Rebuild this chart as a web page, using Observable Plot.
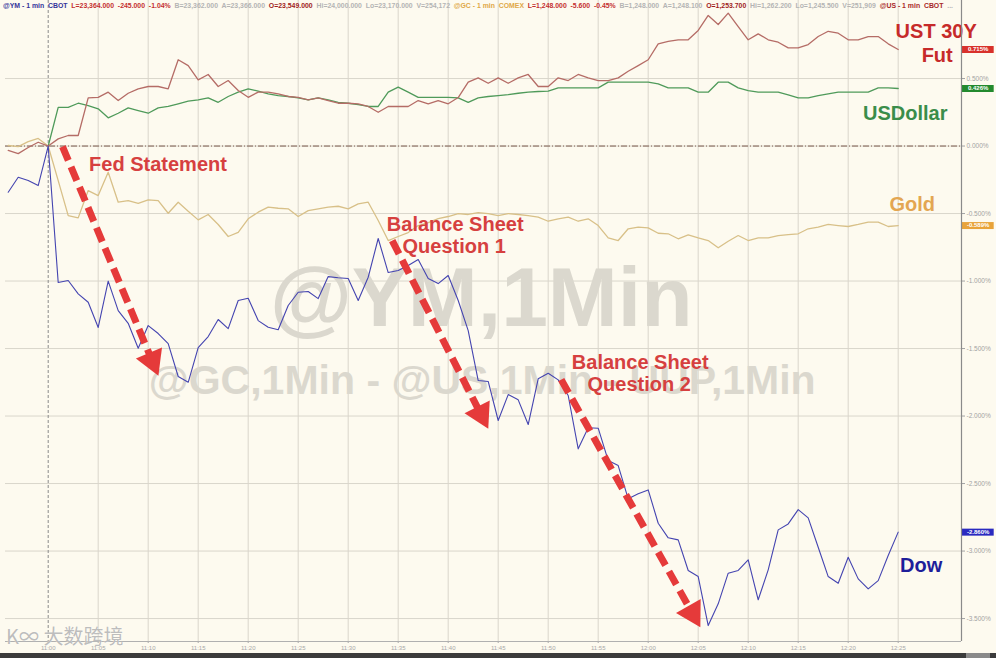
<!DOCTYPE html>
<html><head><meta charset="utf-8">
<script src="https://cdn.jsdelivr.net/npm/d3@7"></script>
<script src="https://cdn.jsdelivr.net/npm/@observablehq/plot@0.6"></script>
<style>
body{margin:0;background:#fdfaef;width:996px;height:658px;overflow:hidden;position:relative;font-family:"Liberation Sans",Arial,sans-serif;}
#chart{position:absolute;left:0;top:0;}
#hdr{position:absolute;left:3px;top:2px;font-size:6.5px;line-height:7px;white-space:pre;transform-origin:0 0;font-weight:bold;}
#bar{position:absolute;left:0;top:653px;width:996px;height:5px;background:#3b3b3b;}
#bar2{position:absolute;left:966px;top:653px;width:24px;height:5px;background:#8a8a8a;}
#logo{position:absolute;left:6px;top:625px;font-size:20px;line-height:22px;color:rgba(160,160,160,0.7);font-family:"Noto Sans CJK SC","Liberation Sans",sans-serif;text-shadow:0 0 1px #fff;}
</style></head><body>
<div id="chart"></div><div id="hdr"></div><div id="bar"></div><div id="bar2"></div>
<div id="logo">K∞ 大数跨境</div>
<script>
// minutes relative to 11:00, one point per minute from 10:56 to 12:25
const firstMinute = -4;
const dow = [-0.342,-0.231,-0.256,-0.293,0.000,-1.011,-0.996,-1.095,-1.157,-1.344,
 -1.001,-1.219,-1.313,-1.498,-1.330,-1.389,-1.463,-1.707,-1.750,-1.493,
 -1.411,-1.285,-1.352,-1.144,-1.127,-1.293,-1.342,-1.361,-1.181,-1.083,
 -1.078,-1.130,-0.967,-0.976,-0.981,-1.144,-0.972,-0.685,-0.937,-0.922,
 -0.885,-0.841,-0.981,-1.019,-0.959,-1.144,-1.367,-1.737,-1.744,-2.033,
 -1.841,-1.880,-2.063,-1.724,-1.683,-1.732,-1.848,-2.243,-2.087,-2.090,
 -2.330,-2.367,-2.613,-2.576,-2.547,-2.794,-2.902,-2.917,-3.144,-3.189,
 -3.552,-3.391,-3.164,-3.144,-3.065,-3.361,-3.139,-2.843,-2.799,-2.693,
 -2.754,-2.972,-3.189,-3.239,-3.046,-3.206,-3.280,-3.219,-3.033,-2.860];
const gold = [0.004,-0.004,0.033,0.056,0.000,-0.256,-0.515,-0.532,-0.330,-0.367,
 -0.194,-0.416,-0.404,-0.424,-0.399,-0.404,-0.498,-0.416,-0.483,-0.547,
 -0.507,-0.581,-0.670,-0.639,-0.539,-0.490,-0.453,-0.461,-0.465,-0.522,
 -0.478,-0.465,-0.453,-0.446,-0.465,-0.428,-0.416,-0.552,-0.700,-0.670,
 -0.641,-0.589,-0.567,-0.537,-0.522,-0.500,-0.507,-0.493,-0.500,-0.515,
 -0.500,-0.507,-0.515,-0.527,-0.557,-0.539,-0.527,-0.557,-0.539,-0.589,
 -0.680,-0.700,-0.613,-0.601,-0.606,-0.646,-0.650,-0.687,-0.658,-0.680,
 -0.700,-0.754,-0.705,-0.663,-0.700,-0.680,-0.680,-0.663,-0.656,-0.650,
 -0.613,-0.601,-0.581,-0.589,-0.596,-0.581,-0.564,-0.564,-0.596,-0.589];
const usd = [null,null,null,null,0.000,0.287,0.287,0.317,0.300,0.276,
 0.209,0.243,0.283,0.263,0.243,0.283,0.293,0.313,0.332,0.342,
 0.357,0.324,0.367,0.399,0.424,0.406,0.387,0.374,0.367,0.357,
 0.342,0.357,0.342,0.324,0.317,0.307,0.293,0.293,0.399,0.436,
 0.399,0.361,0.361,0.361,0.361,0.357,0.324,0.357,0.367,0.374,
 0.381,0.391,0.399,0.404,0.406,0.431,0.431,0.431,0.431,0.431,
 0.473,0.473,0.473,0.473,0.473,0.461,0.431,0.431,0.431,0.399,
 0.399,0.473,0.473,0.431,0.411,0.399,0.399,0.399,0.379,0.357,
 0.357,0.374,0.387,0.399,0.399,0.399,0.399,0.431,0.431,0.426];
const ust = [-0.033,-0.056,-0.011,0.028,0.000,0.053,0.078,0.078,0.357,0.361,
 0.399,0.337,0.391,0.424,0.441,0.441,0.424,0.639,0.596,0.490,
 0.530,0.441,0.485,0.411,0.361,0.399,0.399,0.387,0.367,0.361,
 0.342,0.357,0.337,0.317,0.317,0.313,0.293,0.250,0.293,0.293,
 0.293,0.337,0.313,0.337,0.313,0.359,0.473,0.505,0.465,0.505,
 0.465,0.505,0.530,0.441,0.441,0.505,0.485,0.530,0.505,0.485,
 0.485,0.505,0.554,0.596,0.639,0.757,0.776,0.787,0.787,0.856,
 0.967,0.900,0.984,0.885,0.787,0.831,0.787,0.769,0.727,0.727,
 0.752,0.811,0.850,0.836,0.787,0.787,0.811,0.811,0.757,0.715];

const seriesNames = ["Gold","USDollar","UST 30Y Fut","Dow"];
const lineColors = ["#d8c088","#4f9a5a","#b56c66","#4444b0"];
const seriesValues = [gold, usd, ust, dow];

const yTicks = [0.5,0,-0.5,-1,-1.5,-2,-2.5,-3,-3.5];
const xTicks = [0,5,10,15,20,25,30,35,40,45,50,55,60,65,70,75,80,85];

// annotation texts (positions in minutes / percent)
const notes = [
 {t:10.98, v:-0.137, text:"Fed Statement"},
 {t:40.7, v:-0.583, text:"Balance Sheet"},
 {t:40.6, v:-0.744, text:"Question 1"},
 {t:59.2, v:-1.607, text:"Balance Sheet"},
 {t:59.1, v:-1.767, text:"Question 2"}
];
const seriesLabels = [
 {t:88.8, v:0.848, text:"UST 30Y", color:"#c62a2a"},
 {t:88.9, v:0.670, text:"Fut", color:"#c62a2a"},
 {t:85.7, v:0.241, text:"USDollar", color:"#3a8d4a"},
 {t:86.4, v:-0.433, text:"Gold", color:"#e3a652"},
 {t:87.3, v:-3.107, text:"Dow", color:"#1e1e9a"}
];
const badges = [
 {v:0.715, text:"0.715%", color:"#d8312b"},
 {v:0.426, text:"0.426%", color:"#238a2e"},
 {v:-0.589, text:"-0.589%", color:"#e8a33a"},
 {v:-2.860, text:"-2.860%", color:"#2a2ac0"}
];
const arrows = [
 {x1:1.43, y1:-0.004, x2:10.93, y2:-1.685},
 {x1:34.4, y1:-0.70, x2:43.9, y2:-2.078},
 {x1:51.3, y1:-1.73, x2:65.1, y2:-3.55}
];
const watermarks = [
 {t:43.3, v:-1.137, text:"@YM,1Min", size:84},
 {t:43.4, v:-1.737, text:"@GC,1Min - @US,1Min - UUP,1Min", size:41}
];

const xDomain = [-4.27, 91.33], yDomain = [-3.670, 1.078];
const W = 996, H = 653, mL = 5, mR = 35, mT = 0, mB = 12;
const xs = d3.scaleLinear(xDomain, [mL, W - mR]);
const ys = d3.scaleLinear(yDomain, [H - mB, mT]);

const shafts = [], heads = [];
for (const a of arrows) {
  const px1 = xs(a.x1), py1 = ys(a.y1), px2 = xs(a.x2), py2 = ys(a.y2);
  const len = Math.hypot(px2 - px1, py2 - py1), ux = (px2 - px1) / len, uy = (py2 - py1) / len;
  shafts.push({x1:a.x1, y1:a.y1, x2:xs.invert(px2 - 21*ux), y2:ys.invert(py2 - 21*uy)});
  heads.push({x:xs.invert(px2 - 14*ux), y:ys.invert(py2 - 14*uy), r: Math.atan2(ux, -uy) * 180 / Math.PI});
}

const fmtTime = t => { const m = 11*60 + t; return `${Math.floor(m/60)}:${String(m%60).padStart(2,"0")}`; };

const lineMarks = seriesValues.map((vals, k) =>
  Plot.line(vals.map((v, i) => ({t: firstMinute + i, v})), {
    x:"t", y:"v", stroke: lineColors[k], strokeWidth: k === 3 ? 1.1 : 1.3, defined: d => d.v != null
  }));

const chart = Plot.plot({
  width: W, height: H, marginTop: mT, marginBottom: mB, marginLeft: mL, marginRight: mR,
  style: {background: "transparent", fontFamily: "Liberation Sans, Arial, sans-serif", overflow: "visible"},
  x: {domain: xDomain},
  y: {domain: yDomain},
  marks: [
    Plot.gridY(yTicks, {stroke: "#d9d6cb", strokeOpacity: 1}),
    Plot.gridX(xTicks.filter(t => t !== 0), {stroke: "#d9d6cb", strokeOpacity: 1}),
    Plot.text(watermarks, {x:"t", y:"v", text:"text", fontSize: d => d.size, fontWeight:"bold", fill:"#dbd8ce"}),
    Plot.ruleY([0], {stroke: "#7d5c50", strokeDasharray: "6,2,1,2"}),
    Plot.ruleX([0], {stroke: "#8a8a8a", strokeDasharray: "3,2"}),
    ...lineMarks,
    Plot.link(shafts, {x1:"x1", y1:"y1", x2:"x2", y2:"y2", stroke:"#e53a3a", strokeWidth: 7, strokeDasharray: "15,7"}),
    Plot.dot(heads, {x:"x", y:"y", symbol:"triangle", r: 10.5, fill:"#e53a3a", stroke:"none", rotate:"r"}),
    Plot.text(notes, {x:"t", y:"v", text:"text", fontSize: 20, fontWeight:"bold", fill:"#d6403f"}),
    Plot.text(seriesLabels, {x:"t", y:"v", text:"text", fontSize: 20, fontWeight:"bold", fill: d => d.color}),
    Plot.ruleY(badges, {y:"v", x1: 91.43, x2: 94.6, stroke: d => d.color, strokeWidth: 7}),
    Plot.text(badges, {y:"v", x: 93.0, text:"text", fontSize: 6, fontWeight:"bold", fill:"white"}),
    Plot.axisY(yTicks, {anchor:"right", tickSize: 3, tickPadding: 2, fontSize: 6.5, color:"#a3a3a3", tickFormat: d => d.toFixed(3) + "%", label: null}),
    Plot.axisX(xTicks, {anchor:"bottom", tickSize: 2, tickPadding: 2, fontSize: 6, color:"#a8a8a8", tickFormat: fmtTime, label: null}),
    Plot.ruleX([xDomain[1]], {stroke:"#8a8a8a", strokeWidth: 1.2}),
    Plot.ruleY([yDomain[0]], {stroke:"#b0b0b0"})
  ]
});
document.getElementById("chart").appendChild(chart);

const header = [
 ["@YM - 1 min  CBOT  ", "#34349a"],
 ["L=23,364.000  -245.000  -1.04%  ", "#c43030"],
 ["B=23,362.000  A=23,366.000  ", "#b4b4b4"],
 ["O=23,549.000  ", "#a01c1c"],
 ["Hi=24,000.000  Lo=23,170.000  V=254,172  ", "#b4b4b4"],
 ["@GC - 1 min  COMEX  ", "#e0a848"],
 ["L=1,248.000  -5.600  -0.45%  ", "#c43030"],
 ["B=1,248.000  A=1,248.100  ", "#b4b4b4"],
 ["O=1,253.700  ", "#a01c1c"],
 ["Hi=1,262.200  Lo=1,245.500  V=251,909  ", "#b4b4b4"],
 ["@US - 1 min  CBOT  ", "#a82828"],
 ["...", "#b4b4b4"]
];
const hdr = document.getElementById("hdr");
for (const [txt, col] of header) {
  const s = document.createElement("span");
  s.textContent = txt; s.style.color = col; hdr.appendChild(s);
}
const w = hdr.getBoundingClientRect().width;
hdr.style.transform = `scaleX(${950 / w})`;
</script>
</body></html>
